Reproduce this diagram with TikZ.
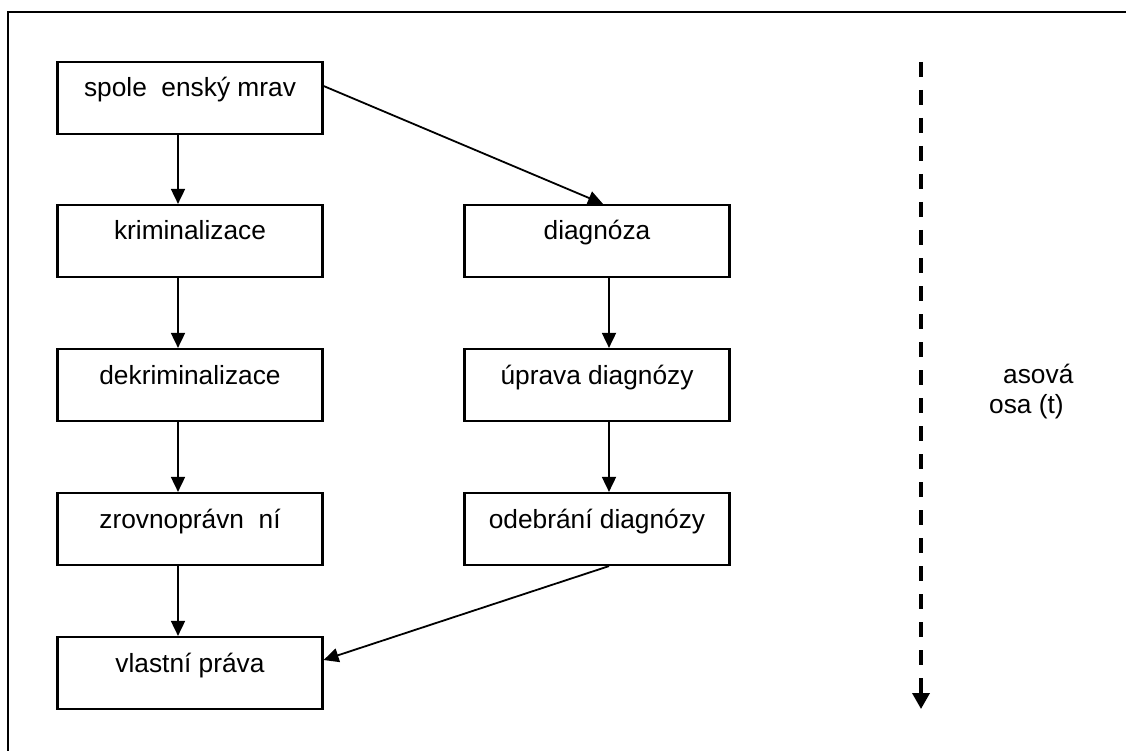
\documentclass[tikz,border=0pt]{standalone}
\usepackage{fontspec}
\setmainfont{Liberation Sans}
\usetikzlibrary{arrows.meta}
\begin{document}
\begin{tikzpicture}[x=1pt,y=-1pt,
  box/.style={draw, line width=2.2pt, rectangle, inner sep=0pt,
    minimum width=265pt, text height=35pt, text depth=37pt,
    font=\fontsize{26.3}{30}\selectfont},
  conn/.style={line width=1.8pt, -{Triangle[length=15pt,width=14pt]}},
  axis/.style={line width=3.5pt, dash pattern=on 15pt off 13pt,
    -{Triangle[length=16pt,width=17pt]}},
  lbl/.style={inner sep=0pt, anchor=base west, font=\fontsize{26.3}{30}\selectfont},
  frame/.style={line width=1.3pt}]
\useasboundingbox (0,0) rectangle (1126,751);
\draw[frame] (8,751) -- (8,12) -- (1126,12);

\node[box] (spole) at (190,98) {spole\ \ enský mrav};
\node[box] (krim) at (190,241) {kriminalizace};
\node[box] (dekrim) at (190,385) {dekriminalizace};
\node[box] (zrov) at (190,529) {zrovnoprávn\ \ ní};
\node[box] (vlast) at (190,673) {vlastní práva};

\node[box] (diag) at (597,241) {diagnóza};
\node[box] (uprava) at (597,385) {úprava diagnózy};
\node[box] (odeb) at (597,529) {odebrání diagnózy};

\draw[conn] ([xshift=-12pt]spole.south) -- ([xshift=-12pt]krim.north);
\draw[conn] ([xshift=-12pt]krim.south) -- ([xshift=-12pt]dekrim.north);
\draw[conn] ([xshift=-12pt]dekrim.south) -- ([xshift=-12pt]zrov.north);
\draw[conn] ([xshift=-12pt]zrov.south) -- ([xshift=-12pt]vlast.north);

\draw[conn] ([xshift=12pt]diag.south) -- ([xshift=12pt]uprava.north);
\draw[conn] ([xshift=12pt]uprava.south) -- ([xshift=12pt]odeb.north);

\draw[conn] ([yshift=12pt]spole.east) -- ([xshift=6pt]diag.north);
\draw[conn] ([xshift=12pt]odeb.south) -- ([yshift=13pt]vlast.east);

\coordinate (axtop) at (921,62);
\coordinate (axbot) at (921,709);
\draw[axis] (axtop) -- (axbot);

\node[lbl] (ax1) at (1003,383) {asová};
\node[lbl] (ax2) at (989,413) {osa (t)};
\end{tikzpicture}
\end{document}
